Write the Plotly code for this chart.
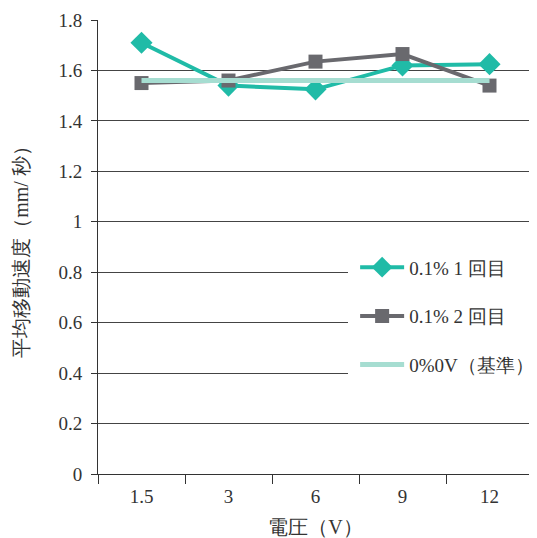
import plotly.graph_objects as go

categories = ["1.5", "3", "6", "9", "12"]
series1 = [1.71, 1.54, 1.525, 1.62, 1.625]
series2 = [1.55, 1.56, 1.635, 1.665, 1.54]
baseline = [1.56, 1.56, 1.56, 1.56, 1.56]
names = ["0.1% 1 回目", "0.1% 2 回目", "0%0V（基準）"]
yticks = [0, 0.2, 0.4, 0.6, 0.8, 1, 1.2, 1.4, 1.6, 1.8]
ytick_text = ["0", "0.2", "0.4", "0.6", "0.8", "1", "1.2", "1.4", "1.6", "1.8"]

FONT = "Liberation Serif, Times New Roman, DejaVu Serif, serif"

fig = go.Figure()
fig.add_trace(go.Scatter(x=categories, y=series1, name=names[0], legendgroup="a",
                         mode="lines+markers",
                         line=dict(color="#20BBA7", width=4),
                         marker=dict(symbol="diamond", size=17, color="#20BBA7")))
fig.add_trace(go.Scatter(x=categories, y=series2, name=names[1], legendgroup="b",
                         mode="lines+markers",
                         line=dict(color="#69696E", width=4),
                         marker=dict(symbol="square", size=14, color="#69696E")))
fig.add_trace(go.Scatter(x=categories, y=baseline, name=names[2], legendgroup="c",
                         mode="lines",
                         line=dict(color="#A6DDD1", width=5)))

fig.update_layout(
    width=529, height=530,
    margin=dict(l=90, r=4, t=12, b=64, autoexpand=False),
    paper_bgcolor="white", plot_bgcolor="white",
    font=dict(family=FONT, size=19, color="#333333"),
    showlegend=True,
    legend=dict(x=0.575, y=0.497, xanchor="left", yanchor="top",
                bgcolor="white", borderwidth=0,
                font=dict(family=FONT, size=19, color="#333333"),
                traceorder="grouped", tracegroupgap=21,
                itemwidth=44, indentation=7),
    xaxis=dict(type="category", range=[-0.5, 4.5], automargin=False,
               showline=True, linecolor="#333333", linewidth=1,
               ticks="outside", tickson="boundaries", ticklen=9,
               tickcolor="#333333", showgrid=False,
               ticklabelstandoff=5,
               tickfont=dict(family=FONT, size=19),
               title=dict(text="電圧（V）", font=dict(family=FONT, size=20), standoff=15)),
    yaxis=dict(range=[0, 1.8], tickvals=yticks, ticktext=ytick_text, automargin=False,
               showline=True, linecolor="#333333", linewidth=1,
               ticks="outside", ticklen=6, tickcolor="#333333",
               showgrid=True, gridcolor="#444444", gridwidth=1,
               zeroline=False, ticklabelstandoff=5,
               tickfont=dict(family=FONT, size=19),
               title=dict(text="平均移動速度（mm/ 秒）", font=dict(family=FONT, size=20), standoff=24)),
)

fig.write_html("out.html")
